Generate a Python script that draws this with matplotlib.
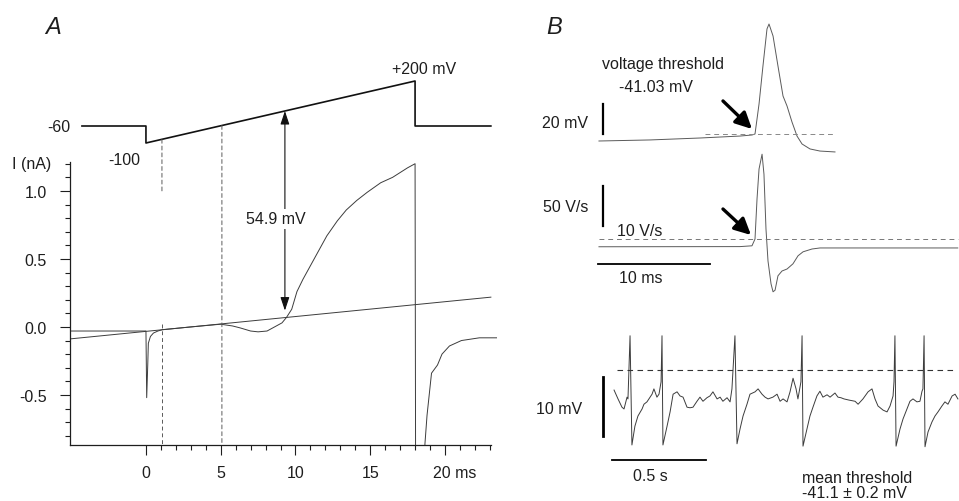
import numpy as np
import matplotlib
matplotlib.use("Agg")
import matplotlib.pyplot as plt
from matplotlib.patches import ConnectionPatch
from matplotlib.transforms import ScaledTranslation

plt.rcParams["font.family"] = ["Liberation Sans", "DejaVu Sans"]
plt.rcParams["axes.unicode_minus"] = False

W, H = 959, 502
INK = "#1e1e1e"
TRACE = "#3c3c3c"
LIGHT = "#5a5a5a"
FS = 11.5

# ── A: voltage protocol (mV) ───────────────────────────────────────────────────
PROTO_T = [-4.28, 0.0, 0.0, 18.0, 18.0, 23.07]
PROTO_MV = [-60, -60, -100, 200, -60, -60]
THR_MV = 54.9

# ── A: leak line and ramp current (nA) ─────────────────────────────────────────
LEAK_T = [-5.08, 23.07]
LEAK_I = [-0.088, 0.219]

CUR_T = [-5.08, 0.0, 0.05, 0.12, 0.16, 0.3, 0.5, 0.8, 1.1, 3.0, 5.0, 5.8,
         6.3, 7.0, 7.5, 8.1, 8.6, 9.1, 9.4, 9.75, 10.1, 10.5, 11.1, 11.6,
         12.1, 12.8, 13.4, 14.1, 14.8, 15.7, 16.5, 17.5, 18.0, 18.05, 18.6,
         18.66, 18.8, 19.1, 19.5, 19.8, 20.3, 21.1, 22.3, 23.5]
CUR_I = [-0.03, -0.03, -0.52, -0.28, -0.12, -0.07, -0.045, -0.03, -0.02,
         0.0, 0.02, 0.007, -0.007, -0.03, -0.036, -0.03, 0.0, 0.03, 0.07,
         0.13, 0.26, 0.35, 0.47, 0.57, 0.67, 0.78, 0.86, 0.93, 0.99, 1.06,
         1.10, 1.17, 1.20, -2.0, -2.0, -0.86, -0.65, -0.34, -0.28, -0.20,
         -0.14, -0.10, -0.08, -0.08]
ARROW_I = 0.12
DASH_T = [1.07, 5.08]

X_MAJOR = [0, 5, 10, 15, 20]
X_LABELS = ["0", "5", "10", "15", "20 ms"]
X_MINOR = [t for t in range(1, 24) if t % 5]
Y_MAJOR = [-0.5, 0.0, 0.5, 1.0]
Y_LABELS = ["-0.5", "0.0", "0.5", "1.0"]
Y_MINOR = [round(v, 1) for v in np.arange(-0.8, 1.21, 0.1)]

# ── B: single action potential (ms from threshold, mV) ─────────────────────────
AP_T = [-13.93, -9.38, -4.91, -1.34, -0.27, 0.0, 0.36, 0.71, 1.07, 1.25,
        1.61, 2.05, 2.50, 2.86, 3.30, 3.75, 4.20, 4.91, 5.80, 7.14]
AP_V = [-45.7, -45.0, -43.7, -42.4, -41.7, -41.03, -21.0, 4.3, 29.0, 32.3,
        24.3, 4.3, -15.7, -22.4, -33.0, -42.4, -47.7, -51.0, -52.4, -53.0]
V_THR = -41.03

# ── B: dV/dt of the same spike (V/s) ───────────────────────────────────────────
DV_T = [-13.93, -1.34, -0.27, 0.0, 0.18, 0.36, 0.63, 0.80, 0.98, 1.16, 1.43,
        1.61, 1.79, 2.05, 2.41, 2.86, 3.39, 3.84, 4.29, 5.09, 5.80, 18.1]
DV_D = [0.3, 0.5, 1.5, 10, 60, 97.5, 116, 91, 22.5, -17.5, -46, -56, -54,
        -36, -30, -27.5, -21, -11, -6, -2.5, -1.2, -1.2]
DV_THR = 10

# ── B: repetitive firing (s, mV) ───────────────────────────────────────────────
BURST_T = [-0.005, 0.016, 0.037, 0.048, 0.064, 0.069, 0.080, 0.090,
           0.106, 0.122, 0.144, 0.154, 0.170, 0.197, 0.207, 0.223, 0.234,
           0.245, 0.250, 0.255,
           0.277, 0.293, 0.309, 0.330, 0.346, 0.362, 0.383, 0.399, 0.415,
           0.436, 0.452, 0.468, 0.489, 0.505, 0.521, 0.543, 0.559, 0.574,
           0.596, 0.612, 0.622, 0.638, 0.649,
           0.665, 0.681, 0.702, 0.718, 0.745, 0.761, 0.782, 0.798, 0.814,
           0.840, 0.862, 0.878, 0.894, 0.915, 0.931, 0.947, 0.963, 0.973,
           0.989, 0.995, 1.000,
           1.021, 1.037, 1.053, 1.074, 1.090, 1.106, 1.128, 1.144, 1.170,
           1.186, 1.202, 1.218, 1.245, 1.277, 1.293, 1.319, 1.346, 1.367,
           1.383, 1.399, 1.426, 1.447, 1.463, 1.479, 1.484, 1.489, 1.495,
           1.516, 1.532, 1.553, 1.569, 1.585, 1.606, 1.622, 1.633, 1.638,
           1.644, 1.649,
           1.665, 1.686, 1.702, 1.718, 1.739, 1.755, 1.771, 1.793, 1.809,
           1.824]
BURST_V = [-44.5, -46.0, -47.4, -47.7, -45.7, -46.0, -35.3, -53.8,
           -50.6, -48.9, -47.7, -46.9, -46.5, -45.2, -44.3, -45.7, -45.2,
           -43.1, -35.3, -53.8,
           -50.6, -48.2, -45.2, -44.8, -45.5, -45.7, -47.4, -47.5, -47.4,
           -46.4, -45.7, -46.4, -45.8, -45.5, -44.8, -46.0, -45.7, -46.4,
           -45.8, -46.5, -44.3, -35.3, -53.6,
           -51.1, -48.9, -46.9, -45.2, -44.8, -44.3, -45.2, -45.7, -46.0,
           -45.7, -45.2, -46.4, -46.0, -46.5, -44.8, -42.5, -44.3, -46.0,
           -43.1, -35.3, -54.0,
           -51.1, -48.9, -47.4, -45.5, -44.7, -45.7, -45.3, -45.7, -45.0,
           -45.7, -45.8, -46.0, -46.2, -46.4, -46.9, -46.0, -44.8, -44.3,
           -46.0, -47.2, -47.9, -48.2, -47.2, -45.5, -43.1, -35.3, -54.0,
           -51.1, -49.4, -47.7, -46.4, -46.0, -46.5, -46.4, -44.7, -44.3,
           -35.3, -54.1,
           -51.6, -49.9, -48.9, -48.2, -47.2, -46.5, -46.9, -45.5, -45.2,
           -46.0]
BURST_THR = -41.1

fig = plt.figure(figsize=(W / 100, H / 100), dpi=100)
fig.patch.set_facecolor("white")


def px_axes(left, top, right, bottom):
    """Axes placed by pixel edges, measured from the top-left corner."""
    return fig.add_axes([left / W, 1 - bottom / H,
                         (right - left) / W, (bottom - top) / H])


def ftext(x, y, s, **kw):
    kw.setdefault("fontsize", FS)
    kw.setdefault("color", INK)
    kw.setdefault("va", "center")
    return fig.text(x / W, 1 - y / H, s, **kw)


dashed = dict(color=LIGHT, lw=0.7, linestyle=(0, (4, 3)))

# ── A: current axes ────────────────────────────────────────────────────────────
ax_i = px_axes(70, 162, 497, 446)
ax_i.set_xlim(-5.08, 23.48)
ax_i.set_ylim(-0.868, 1.22)
for s in ("top", "right"):
    ax_i.spines[s].set_visible(False)
ax_i.spines["left"].set_bounds(-0.868, 1.21)
ax_i.spines["bottom"].set_bounds(-5.08, 23.07)
for s in ("left", "bottom"):
    ax_i.spines[s].set_linewidth(0.9)
    ax_i.spines[s].set_color(INK)

ax_i.plot(LEAK_T, LEAK_I, color=TRACE, lw=0.7)
ax_i.plot(CUR_T, CUR_I, color=TRACE, lw=0.7)

ax_i.set_xticks(X_MAJOR)
ax_i.set_xticklabels(X_LABELS)
ax_i.set_xticks(X_MINOR, minor=True)
ax_i.set_yticks(Y_MAJOR)
ax_i.set_yticklabels(Y_LABELS)
ax_i.set_yticks([v for v in Y_MINOR if v not in Y_MAJOR], minor=True)
ax_i.tick_params(which="major", length=7.5, width=0.8, color=INK,
                 labelsize=FS, labelcolor=INK)
ax_i.tick_params(which="minor", length=3.5, width=0.8, color=INK)
ax_i.tick_params(axis="x", which="major", pad=7)
ax_i.tick_params(axis="y", which="major", pad=9)
last = ax_i.get_xticklabels()[-1]
last.set_horizontalalignment("left")
last.set_transform(last.get_transform()
                   + ScaledTranslation(-0.12, 0, fig.dpi_scale_trans))

# ── A: protocol axes (schematic, steps and ramp drawn at different gains) ──────
V_KNOTS = [-140, -100, -60, 200, 400]
DRAW_KNOTS = [-17.0, 0.0, 17.0, 62.0, 96.6]


def fwd(v):
    return np.interp(v, V_KNOTS, DRAW_KNOTS)


def inv(d):
    return np.interp(d, DRAW_KNOTS, V_KNOTS)


ax_v = px_axes(70, 60, 497, 150)
ax_v.set_xlim(ax_i.get_xlim())
ax_v.set_yscale("function", functions=(fwd, inv))
ax_v.set_ylim(inv(-6.0), inv(84.0))
ax_v.axis("off")
ax_v.plot(PROTO_T, PROTO_MV, color="#111111", lw=1.2, clip_on=False)

t0, t1 = PROTO_T[2], PROTO_T[3]
v0, v1 = PROTO_MV[2], PROTO_MV[3]


def on_ramp(t):
    """mV value that lands on the straight drawn ramp at time t."""
    return inv(np.interp(t, [t0, t1], fwd(np.array([v0, v1]))))


T_THR = t0 + (THR_MV - v0) / (v1 - v0) * (t1 - t0)

fig.add_artist(ConnectionPatch(
    xyA=(DASH_T[0], on_ramp(DASH_T[0])), coordsA=ax_v.transData,
    xyB=(DASH_T[0], 1.0), coordsB=ax_i.transData, **dashed))
ax_i.plot([DASH_T[0]] * 2, [0.02, -0.868], **dashed)
fig.add_artist(ConnectionPatch(
    xyA=(DASH_T[1], on_ramp(DASH_T[1])), coordsA=ax_v.transData,
    xyB=(DASH_T[1], -0.868), coordsB=ax_i.transData, **dashed))

fig.add_artist(ConnectionPatch(
    xyA=(T_THR, on_ramp(T_THR)), coordsA=ax_v.transData,
    xyB=(T_THR, ARROW_I), coordsB=ax_i.transData,
    arrowstyle="<|-|>,head_length=0.9,head_width=0.3", mutation_scale=9,
    color="#111111", lw=0.8, shrinkA=0, shrinkB=0))

ftext(53, 27, "A", fontsize=17, style="italic", ha="center")
ftext(32, 165, "I (nA)", ha="center")
ftext(70, 127, "-60", ha="right")
ftext(124, 161, "-100", ha="center")
ftext(424, 70, "+200 mV", ha="center")
ftext(276, 220, "54.9 mV", ha="center",
      bbox=dict(boxstyle="square,pad=0.15", fc="white", ec="none"))

# ── B: action potential ────────────────────────────────────────────────────────
ax_ap = px_axes(590, 15, 960, 160)
ax_ap.set_xlim(-14.73, 18.30)
ax_ap.set_ylim(-57.70, 38.97)
ax_ap.axis("off")
ax_ap.plot(AP_T, AP_V, color=LIGHT, lw=0.7)
ax_ap.plot([-4.5, AP_T[-1]], [V_THR, V_THR], color="#888888", lw=0.7,
           linestyle=(0, (5, 4)))
ax_ap.plot([-13.57, -13.57], [V_THR, V_THR + 20], color="black", lw=1.6,
           clip_on=False)
ax_ap.annotate("", xy=(-0.27, -37.7), xytext=(-2.86, -19.0),
               arrowprops=dict(arrowstyle="-|>,head_length=0.7,head_width=0.35",
                               mutation_scale=14, lw=2.4, color="black",
                               shrinkA=0, shrinkB=0))

# ── B: dV/dt ───────────────────────────────────────────────────────────────────
ax_dv = px_axes(590, 140, 960, 300)
ax_dv.set_xlim(ax_ap.get_xlim())
ax_dv.set_ylim(-65, 135)
ax_dv.axis("off")
ax_dv.plot(DV_T, DV_D, color=LIGHT, lw=0.7)
ax_dv.plot([DV_T[0], DV_T[-1]], [DV_THR, DV_THR], color="#777777", lw=0.7,
           linestyle=(0, (5, 4)))
ax_dv.plot([-13.57, -13.57], [26, 76], color="black", lw=1.6, clip_on=False)
ax_dv.plot([-14.0, -4.0], [-21, -21], color="black", lw=1.3, clip_on=False)
ax_dv.annotate("", xy=(-0.36, 15), xytext=(-2.86, 47.5),
               arrowprops=dict(arrowstyle="-|>,head_length=0.7,head_width=0.35",
                               mutation_scale=14, lw=2.4, color="black",
                               shrinkA=0, shrinkB=0))

ftext(554, 27, "B", fontsize=17, style="italic", ha="center")
ftext(602, 65, "voltage threshold", ha="left")
ftext(619, 88, "-41.03 mV", ha="left")
ftext(588, 123, "20 mV", ha="right")
ftext(588, 207, "50 V/s", ha="right")
ftext(617, 231, "10 V/s", ha="left")
ftext(619, 279, "10 ms", ha="left")

# ── B: repetitive firing ───────────────────────────────────────────────────────
ax_bt = px_axes(595, 320, 960, 460)
ax_bt.set_xlim(-0.1064, 1.8351)
ax_bt.set_ylim(-56.18, -32.46)
ax_bt.axis("off")
ax_bt.plot(BURST_T, BURST_V, color=TRACE, lw=0.7)
ax_bt.plot([0.01, 1.80], [BURST_THR, BURST_THR], color="#333333", lw=0.8,
           linestyle=(0, (5, 4)))
ax_bt.plot([-0.064, -0.064], [-52.3, -42.3], color="black", lw=2.0,
           clip_on=False)
ax_bt.plot([-0.016, 0.484], [-56.35, -56.35], color="black", lw=1.3,
           clip_on=False)

ftext(582, 410, "10 mV", ha="right")
ftext(633, 477, "0.5 s", ha="left")
ftext(802, 479, "mean threshold", ha="left")
ftext(802, 494, "-41.1 ± 0.2 mV", ha="left")

fig.savefig("out.png", dpi=100, facecolor="white")
